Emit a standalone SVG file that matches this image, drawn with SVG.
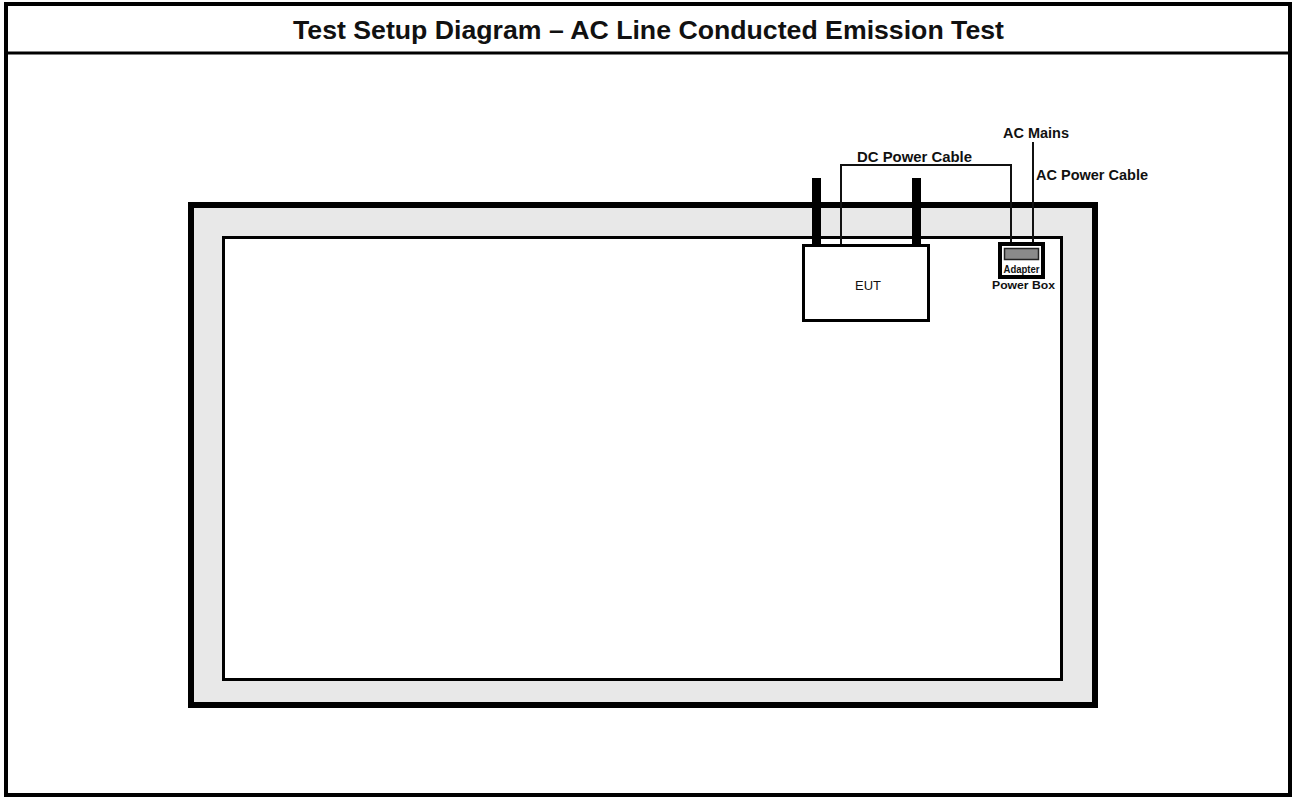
<svg xmlns="http://www.w3.org/2000/svg" width="1292" height="797" viewBox="0 0 1292 797">
<style>
text{font-family:"Liberation Sans",Arial,sans-serif;fill:#111}
.lbl{font-size:14px;font-weight:bold}
.cable{fill:none;stroke:#111;stroke-width:2}
</style>
<rect x="0" y="0" width="1292" height="797" fill="#fff"/>
<g id="frame">
<rect x="6" y="4" width="1284" height="791" fill="none" stroke="#000" stroke-width="4"/>
<line x1="6" y1="53" x2="1290" y2="53" stroke="#000" stroke-width="3"/>
<text x="648.5" y="39" text-anchor="middle" font-size="25.5" font-weight="bold" textLength="711" lengthAdjust="spacingAndGlyphs">Test Setup Diagram – AC Line Conducted Emission Test</text>
</g>
<g id="table">
<rect x="191" y="205" width="904" height="500" fill="#e8e8e8" stroke="#000" stroke-width="6"/>
<rect x="223.5" y="237.5" width="838" height="442" fill="#fff" stroke="#000" stroke-width="3"/>
</g>
<g id="connectors">
<polyline class="cable" points="841,245 841,165 1011,165 1011,243"/>
<line class="cable" x1="1033" y1="142" x2="1033" y2="243"/>
</g>
<g id="eut">
<rect x="812" y="178" width="9" height="67" fill="#000"/>
<rect x="912" y="178" width="9" height="67" fill="#000"/>
<rect x="803.5" y="245.5" width="125" height="75" fill="#fff" stroke="#000" stroke-width="3"/>
<text x="868" y="290" text-anchor="middle" font-size="12" textLength="26" lengthAdjust="spacingAndGlyphs">EUT</text>
</g>
<g id="adapter">
<rect x="1000" y="244" width="43" height="33" fill="#fff" stroke="#000" stroke-width="4"/>
<rect x="1004.5" y="248.5" width="34" height="11" fill="#8a8a8a" stroke="#222" stroke-width="1.5"/>
<text x="1021.5" y="273" text-anchor="middle" font-size="10" font-weight="bold" fill="#333" textLength="36" lengthAdjust="spacingAndGlyphs">Adapter</text>
<text x="1023.5" y="289" text-anchor="middle" font-size="11.5" font-weight="bold" textLength="63" lengthAdjust="spacingAndGlyphs">Power Box</text>
</g>
<g id="labels">
<text class="lbl" x="857" y="162" textLength="115" lengthAdjust="spacingAndGlyphs">DC Power Cable</text>
<text class="lbl" x="1003" y="138" textLength="66" lengthAdjust="spacingAndGlyphs">AC Mains</text>
<text class="lbl" x="1036" y="180" textLength="112" lengthAdjust="spacingAndGlyphs">AC Power Cable</text>
</g>
</svg>
